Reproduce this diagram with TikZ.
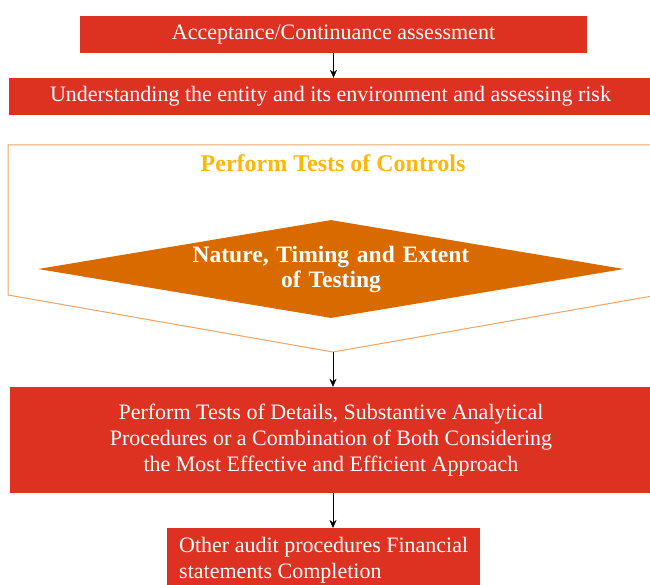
\documentclass[tikz,border=0pt]{standalone}
\usepackage{fontspec}
\setmainfont{Liberation Serif}
\usetikzlibrary{arrows.meta}
\usetikzlibrary{shapes.geometric}
\definecolor{boxred}{RGB}{221,49,33}
\definecolor{nteorange}{RGB}{217,106,0}
\definecolor{lineorange}{RGB}{240,163,100}
\definecolor{titlegold}{RGB}{252,183,10}
\tikzset{>={Stealth[length=8pt, width=7pt]}}
\tikzset{stepbox/.style={rectangle, fill=boxred, text=white, inner sep=0pt, align=center, font=\fontsize{22}{26}\selectfont}}
\tikzset{choice/.style={diamond, fill=nteorange, text=white, inner sep=0pt, aspect=6, align=center, font=\bfseries\fontsize{23.5}{25}\selectfont}}

\begin{document}
\begin{tikzpicture}[x=1pt, y=1pt]
\useasboundingbox (0,0) rectangle (650,-585);

\node[stepbox, minimum width=507pt, minimum height=37pt] (accept) at (333.5,-34.5) {Acceptance/Continuance assessment};
\node[stepbox, minimum width=643pt, minimum height=37pt] (understand) at (330.5,-96.5) {Understanding the entity and its environment and assessing risk};

% outline around the tests of controls
\coordinate (tip) at (333,-352);
\draw[lineorange, line width=1pt] (8,-295) -- (8,-145) -- (658,-145) -- (658,-295) -- (tip) -- cycle;
\node[text=titlegold, font=\bfseries\fontsize{24}{26}\selectfont] (controls) at (333,-163) {Perform Tests of Controls};
\node[choice, minimum width=586pt, minimum height=98pt, text width=290pt] (nte) at (331,-269) {Nature, Timing and Extent\\of Testing};

\node[stepbox, minimum width=642pt, minimum height=106pt] (tests) at (331,-440) {Perform Tests of Details, Substantive Analytical\\Procedures or a Combination of Both Considering\\the Most Effective and Efficient Approach};
\node[stepbox, anchor=north west, minimum width=313pt, minimum height=64pt, align=left] (other) at (167,-528) {Other audit procedures Financial\\statements Completion};

\draw[->] (accept.south) -- (accept.south |- understand.north);
\draw[->] (tip) -- (tip |- tests.north);
\draw[->] (tip |- tests.south) -- (tip |- other.north);
\end{tikzpicture}
\end{document}
